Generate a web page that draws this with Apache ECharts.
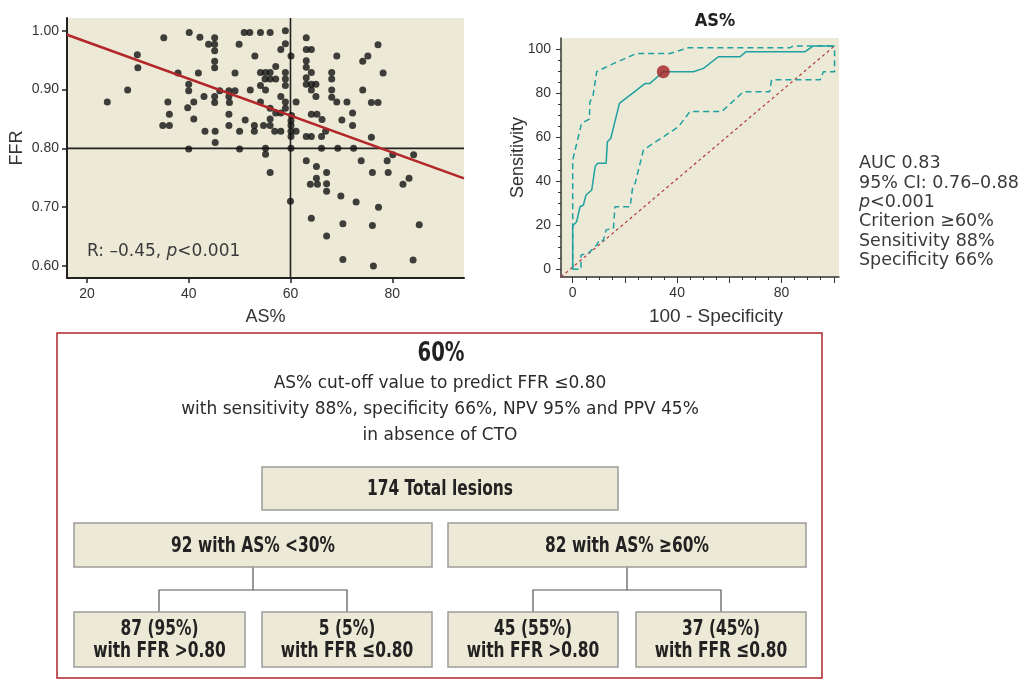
<!DOCTYPE html>
<html><head><meta charset="utf-8">
<script src="https://cdn.jsdelivr.net/npm/echarts@6/dist/echarts.min.js"></script>
<style>html,body{margin:0;padding:0;background:#fff}#c{width:1026px;height:681px}</style>
</head><body><div id="c"></div>
<script>
// ---------- data ----------
const scatterPoints = [
[24.0,0.879],[28.0,0.899],[29.9,0.959],[30.0,0.937],[35.1,0.988],[34.9,0.839],[36.2,0.839],[35.9,0.879],[36.2,0.858],[37.9,0.928],
[40.1,0.997],[40.0,0.909],[40.0,0.898],[39.8,0.869],[41.0,0.879],[41.0,0.850],[40.0,0.799],[42.2,0.989],[41.9,0.928],[43.0,0.888],
[43.2,0.829],[43.9,0.977],[45.1,0.988],[45.1,0.977],[45.1,0.966],[45.1,0.948],[45.1,0.937],[45.1,0.888],[45.1,0.878],[45.2,0.829],
[45.2,0.810],[46.1,0.898],[47.9,0.898],[49.1,0.898],[47.9,0.888],[48.0,0.878],[47.9,0.858],[47.9,0.839],[49.1,0.928],[49.9,0.977],
[50.0,0.829],[50.0,0.799],
[50.9,0.997],[52.0,0.997],[54.1,0.997],[56.0,0.997],[59.0,1.000],[59.0,0.978],[58.1,0.968],[53.0,0.957],[60.1,0.957],[63.1,0.988],
[63.1,0.968],[64.1,0.968],[63.1,0.949],[63.1,0.938],[64.1,0.929],[63.1,0.920],[63.1,0.909],[64.1,0.909],[65.0,0.909],[64.1,0.899],
[65.0,0.888],[69.1,0.957],[68.1,0.929],[68.1,0.918],[68.1,0.899],[68.1,0.887],[69.1,0.879],[71.1,0.879],[74.2,0.948],[75.2,0.957],
[77.2,0.976],[78.2,0.928],[74.2,0.899],[75.9,0.878],[77.2,0.878],[72.2,0.860],[70.1,0.848],[72.2,0.839],[75.9,0.819],[52.1,0.899],
[54.1,0.929],[55.1,0.929],[56.0,0.929],[55.0,0.918],[56.0,0.918],[57.1,0.918],[57.1,0.939],[59.0,0.929],[59.0,0.918],[59.0,0.907],
[54.1,0.907],[55.1,0.899],[58.1,0.888],[59.0,0.879],[61.1,0.879],[54.1,0.879],[59.0,0.868],[56.0,0.868],[57.1,0.860],[58.1,0.860],
[60.2,0.856],[56.0,0.850],[60.1,0.847],[60.1,0.839],[60.1,0.829],[60.1,0.820],[60.1,0.800],[61.1,0.829],[64.1,0.858],[65.2,0.858],
[66.2,0.849],[66.9,0.829],[66.1,0.820],[63.1,0.820],[64.1,0.820],[51.1,0.848],[52.9,0.839],[52.9,0.829],[54.7,0.839],[56.0,0.839],
[56.9,0.829],[58.1,0.829],[55.1,0.800],[55.1,0.790],[66.1,0.800],[69.3,0.800],[72.4,0.800],[63.1,0.779],[65.1,0.769],[73.9,0.779],
[79.0,0.779],[80.1,0.789],[84.2,0.789],
[56.0,0.759],[67.1,0.759],[65.1,0.749],[63.9,0.739],[65.3,0.739],[67.1,0.740],[67.1,0.727],[69.9,0.719],[72.9,0.709],[77.3,0.700],
[76.1,0.759],[79.2,0.759],[82.1,0.739],[83.3,0.749],[60.0,0.710],[64.1,0.681],[70.3,0.672],[76.1,0.669],[85.3,0.670],[67.1,0.651],
[70.3,0.611],[76.3,0.600],[84.1,0.610]
];
const regressionLine = [[16.08,0.993],[94.1,0.749]];
const cutoffAS = 60;
const cutoffFFR = 0.80;
const scatterXTicks = [20,40,60,80];
const scatterYTicks = [0.6,0.7,0.8,0.9,1.0];
const scatterCaption = ['R: \u20130.45, ', 'p', '<0.001'];

const rocCurve = [[0,0],[0,19.8],[1.5,21.6],[2.8,28.4],[4.1,29.2],[5.1,33.7],[7.3,36.0],[8.6,46.6],[9.5,48.1],[12.8,48.1],[13.3,57.9],[14.6,59.5],[17.9,75.3],[27.8,84.4],[29.6,84.4],[34.7,89.7],[46.2,89.7],[50.1,91.2],[55.8,96.5],[64.1,96.5],[66.4,98.8],[89.0,98.8],[92.2,101.4],[100.3,101.4]];
const rocUpper = [[0,0],[0,49.6],[3.4,66.3],[6.4,68.2],[6.6,76.1],[7.7,78.1],[9.2,89.7],[14.3,92.7],[24.5,98.0],[37.3,98.0],[44.3,100.6],[83.3,100.6],[84.5,101.4],[100.3,101.4]];
const rocLower = [[0,0],[3.2,0],[3.2,6.5],[6.0,7.3],[9.2,11.0],[10.2,13.3],[11.7,13.0],[12.8,17.9],[15.6,18.6],[16.2,28.4],[22.0,28.4],[23.0,37.5],[23.9,39.0],[27.1,54.2],[40.5,64.7],[44.9,71.6],[57.1,71.6],[65.4,80.6],[75.4,80.6],[76.2,86.0],[94.8,86.0],[96.0,89.7],[100.3,89.7],[100.3,101.4]];
const rocDiagonal = [[-4.48,-3.5],[100.3,101.4]];
const rocCriterion = [[34.7,89.7]];
const rocMinorTicks = [0,5,10,15,20,25,30,35,40,45,50,55,60,65,70,75,80,85,90,95,100];
const rocMajorTicks = [0,20,40,60,80,100];
const rocXLabels = [0,40,80];
const rocYLabels = [0,20,40,60,80,100];
const rocTitle = 'AS%';
const rocStats = [['AUC 0.83'],['95% CI: 0.76\u20130.88'],['p','<0.001'],['Criterion \u226560%'],['Sensitivity 88%'],['Specificity 66%']];

const flowHeader = ['60%','AS% cut-off value to predict FFR \u22640.80','with sensitivity 88%, specificity 66%, NPV 95% and PPV 45%','in absence of CTO'];
const flowTop = '174 Total lesions';
const flowMid = ['92 with AS% <30%','82 with AS% \u226560%'];
const flowBottom = ['87 (95%)\nwith FFR >0.80','5 (5%)\nwith FFR \u22640.80','45 (55%)\nwith FFR >0.80','37 (45%)\nwith FFR \u22640.80'];

// ---------- styles ----------
const COND = "'DejaVu Sans Condensed','DejaVu Sans',sans-serif";
const WIDE = "'DejaVu Sans',sans-serif";
const SANS = "'Liberation Sans',Arial,sans-serif";
const BEIGE = '#ece9d6';
const TEAL = '#1fa1a1';
const RED = '#b0252c';

const chart = echarts.init(document.getElementById('c'), null, {renderer:'canvas'});

const sxMin = 16.08, sxMax = 94.1, syMin = 0.5796, syMax = 1.0216;
const rxMin = -4.48, rxMax = 102.0, ryMin = -3.5, ryMax = 105.0;

function axisBase(extra){
  return Object.assign({type:'value', splitLine:{show:false}}, extra);
}

// flowchart graphic
const g = [];
function box(x1,y1,x2,y2,text){
  g.push({type:'rect', shape:{x:x1,y:y1,width:x2-x1,height:y2-y1}, style:{fill:BEIGE, stroke:'#9c9c9c', lineWidth:1.5}});
  g.push({type:'text', x:(x1+x2)/2, y:(y1+y2)/2+1, scaleX:0.78, style:{text:text, align:'center', verticalAlign:'middle', font:"bold 22px "+COND, fill:'#222', lineHeight:22}});
}
function line(points){
  g.push({type:'polyline', shape:{points:points}, style:{stroke:'#555', lineWidth:1.2, fill:null}});
}
g.push({type:'rect', shape:{x:57,y:333,width:765,height:345}, style:{fill:null, stroke:RED, lineWidth:1.5}});
g.push({type:'text', x:441, y:354, scaleX:0.84, style:{text:flowHeader[0], align:'center', verticalAlign:'middle', font:"bold 26px "+COND, fill:'#222'}});
[384,410,436].forEach((y,i)=>{
  g.push({type:'text', x:440, y:y, style:{text:flowHeader[i+1], align:'center', verticalAlign:'middle', font:"17px "+WIDE, fill:'#2a2a2a'}});
});
line([[253,567],[253,590]]); line([[159,612],[159,590],[347,590],[347,612]]);
line([[627,567],[627,590]]); line([[533,612],[533,590],[721,590],[721,612]]);
box(262,467,618,510,flowTop);
box(74,523,432,567,flowMid[0]);
box(448,523,806,567,flowMid[1]);
box(74,612,245,667,flowBottom[0]);
box(262,612,432,667,flowBottom[1]);
box(448,612,618,667,flowBottom[2]);
box(636,612,806,667,flowBottom[3]);

// captions
g.push({type:'text', x:87, y:252, style:{
  text:'{n|'+scatterCaption[0]+'}{i|'+scatterCaption[1]+'}{n|'+scatterCaption[2]+'}',
  verticalAlign:'middle',
  rich:{n:{fontFamily:WIDE,fontSize:17,fill:'#3a3a3a'}, i:{fontFamily:WIDE,fontSize:17,fontStyle:'italic',fill:'#3a3a3a'}}
}});
g.push({type:'text', x:715, y:21, style:{text:rocTitle, align:'center', verticalAlign:'middle', font:"bold 18px "+COND, fill:'#222'}});
const statsText = rocStats.map(l => l.length===1 ? '{n|'+l[0]+'}' : '{i|'+l[0]+'}{n|'+l[1]+'}').join('\n');
g.push({type:'text', x:859, y:154, style:{
  text:statsText, verticalAlign:'top',
  rich:{n:{fontFamily:WIDE,fontSize:17.5,lineHeight:19.4,fill:'#3a3a3a'}, i:{fontFamily:WIDE,fontSize:17.5,lineHeight:19.4,fontStyle:'italic',fill:'#3a3a3a'}}
}});

const option = {
  animation:false,
  backgroundColor:'#fff',
  grid:[
    {left:67, top:18, width:397, height:260, show:true, backgroundColor:BEIGE, borderWidth:0},
    {left:561, top:38, width:278, height:239, show:true, backgroundColor:BEIGE, borderWidth:0}
  ],
  xAxis:[
    axisBase({gridIndex:0, min:sxMin, max:sxMax, position:'bottom',
      axisLine:{show:true,onZero:false,lineStyle:{color:'#222',width:2}},
      axisTick:{show:true,customValues:scatterXTicks,length:5,lineStyle:{color:'#222',width:1.5}},
      axisLabel:{customValues:scatterXTicks,margin:9,fontFamily:SANS,fontSize:14,color:'#333'},
      name:'AS%', nameLocation:'middle', nameGap:30, nameMoveOverlap:false, nameTextStyle:{fontFamily:SANS,fontSize:18,color:'#333'}}),
    axisBase({gridIndex:1, min:rxMin, max:rxMax, position:'bottom',
      axisLine:{show:true,onZero:false,lineStyle:{color:'#333',width:1.5}},
      axisTick:{show:true,customValues:rocMinorTicks,length:3,lineStyle:{color:'#333',width:1}},
      axisLabel:{customValues:rocXLabels,margin:9,fontFamily:SANS,fontSize:14,color:'#333'},
      name:'100 - Specificity', nameLocation:'middle', nameGap:30, nameMoveOverlap:false, nameTextStyle:{fontFamily:SANS,fontSize:19,color:'#333',padding:[0,0,0,32]}}),
    axisBase({gridIndex:1, min:rxMin, max:rxMax, position:'bottom',
      axisLine:{show:false,onZero:false},
      axisTick:{show:true,customValues:rocMajorTicks,length:6,lineStyle:{color:'#333',width:1}},
      axisLabel:{show:false}})
  ],
  yAxis:[
    axisBase({gridIndex:0, min:syMin, max:syMax, position:'left',
      axisLine:{show:true,onZero:false,lineStyle:{color:'#222',width:2}},
      axisTick:{show:true,customValues:scatterYTicks,length:5,lineStyle:{color:'#222',width:1.5}},
      axisLabel:{customValues:scatterYTicks,margin:8,fontFamily:SANS,fontSize:14,color:'#333',formatter:v=>Number(v).toFixed(2)},
      name:'FFR', nameLocation:'middle', nameGap:41, nameMoveOverlap:false, nameRotate:90, nameTextStyle:{fontFamily:SANS,fontSize:18,color:'#333'}}),
    axisBase({gridIndex:1, min:ryMin, max:ryMax, position:'left',
      axisLine:{show:true,onZero:false,lineStyle:{color:'#333',width:1.5}},
      axisTick:{show:true,customValues:rocMinorTicks,length:3,lineStyle:{color:'#333',width:1}},
      axisLabel:{customValues:rocYLabels,margin:10,fontFamily:SANS,fontSize:14,color:'#333'},
      name:'Sensitivity', nameLocation:'middle', nameGap:34, nameMoveOverlap:false, nameRotate:90, nameTextStyle:{fontFamily:SANS,fontSize:18,color:'#333'}}),
    axisBase({gridIndex:1, min:ryMin, max:ryMax, position:'left',
      axisLine:{show:false,onZero:false},
      axisTick:{show:true,customValues:rocMajorTicks,length:5,lineStyle:{color:'#333',width:1}},
      axisLabel:{show:false}})
  ],
  series:[
    {type:'line', xAxisIndex:0, yAxisIndex:0, data:[[cutoffAS,syMin],[cutoffAS,syMax]], showSymbol:false, symbol:'none', silent:true, lineStyle:{color:'#222',width:1.6}, z:2},
    {type:'line', xAxisIndex:0, yAxisIndex:0, data:[[sxMin,cutoffFFR],[sxMax,cutoffFFR]], showSymbol:false, symbol:'none', silent:true, lineStyle:{color:'#222',width:1.6}, z:2},
    {type:'scatter', xAxisIndex:0, yAxisIndex:0, data:scatterPoints, symbolSize:7, itemStyle:{color:'#111'}, z:3},
    {type:'line', xAxisIndex:0, yAxisIndex:0, data:regressionLine, symbol:'none', lineStyle:{color:'#b3262a',width:2.6}, z:4},
    {type:'line', xAxisIndex:1, yAxisIndex:1, data:rocDiagonal, symbol:'none', lineStyle:{color:'#b23a3a',width:1.2,type:[3,3]}, z:2},
    {type:'line', xAxisIndex:1, yAxisIndex:1, data:rocUpper, symbol:'none', lineStyle:{color:TEAL,width:1.5,type:[6,4]}, z:3},
    {type:'line', xAxisIndex:1, yAxisIndex:1, data:rocLower, symbol:'none', lineStyle:{color:TEAL,width:1.5,type:[6,4]}, z:3},
    {type:'line', xAxisIndex:1, yAxisIndex:1, data:rocCurve, symbol:'none', lineStyle:{color:TEAL,width:1.5}, z:4},
    {type:'scatter', xAxisIndex:1, yAxisIndex:1, data:rocCriterion, symbolSize:13, itemStyle:{color:'#a31f24'}, z:5}
  ],
  graphic:g
};
chart.setOption(option);
</script>
</body></html>
